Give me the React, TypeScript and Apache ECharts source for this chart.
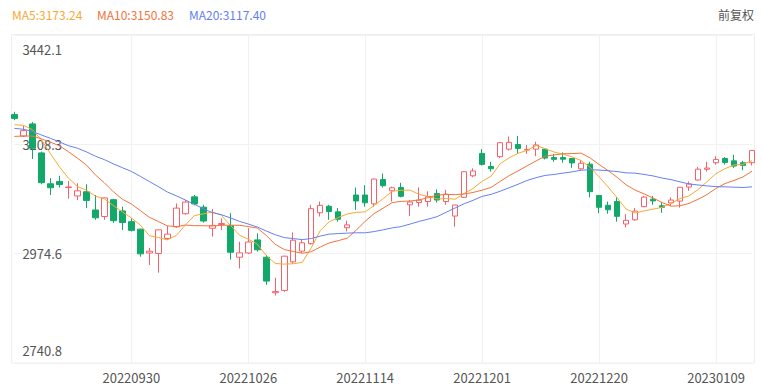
import React, { useEffect, useRef } from 'react';
import * as echarts from 'echarts';

const dates = [
  '20220913', '20220914', '20220915', '20220916', '20220919', '20220920', '20220921', '20220922', '20220923', '20220926', '20220927', '20220928', '20220929', '20220930',
  '20221010', '20221011', '20221012', '20221013', '20221014', '20221017', '20221018', '20221019', '20221020', '20221021', '20221024', '20221025', '20221026', '20221027', '20221028', '20221031',
  '20221101', '20221102', '20221103', '20221104', '20221107', '20221108', '20221109', '20221110', '20221111', '20221114', '20221115', '20221116', '20221117', '20221118', '20221121', '20221122', '20221123', '20221124', '20221125', '20221128', '20221129', '20221130',
  '20221201', '20221202', '20221205', '20221206', '20221207', '20221208', '20221209', '20221212', '20221213', '20221214', '20221215', '20221216', '20221219', '20221220', '20221221', '20221222', '20221223', '20221226', '20221227', '20221228', '20221229', '20221230',
  '20230103', '20230104', '20230105', '20230106', '20230109', '20230110', '20230111', '20230112', '20230113',
];

const opens = [
  3272, 3226, 3252, 3190, 3124, 3129, 3116, 3098, 3107, 3068,
  3054, 3090, 3066, 3043, 3027, 2976, 2975, 3007, 3032, 3060,
  3096, 3074, 3029, 3037, 3034, 2967, 2976, 3004, 2967, 2891,
  2896, 2957, 2980, 2996, 3062, 3076, 3064, 3030, 3100, 3100,
  3081, 3133, 3109, 3116, 3079, 3084, 3086, 3103, 3086, 3055,
  3095, 3141, 3189, 3161, 3182, 3198, 3208, 3196, 3198, 3198,
  3180, 3180, 3178, 3156, 3166, 3099, 3078, 3086, 3038, 3047,
  3075, 3091, 3077, 3083, 3087, 3117, 3132, 3155, 3169, 3178,
  3173, 3169, 3169,
];

const closes = [
  3263.8, 3237.54, 3199.92, 3126.4, 3115.6, 3122.41, 3117.18, 3108.91, 3088.37, 3051.23,
  3093.86, 3045.07, 3041.2, 3024.39, 2974.15, 2979.79, 3025.51, 3016.36, 3071.99, 3084.94,
  3080.96, 3044.38, 3035.05, 3038.93, 2977.56, 2976.28, 2999.5, 2982.9, 2915.93, 2893.48,
  2969.2, 3003.37, 2997.81, 3070.8, 3077.82, 3064.49, 3048.17, 3036.13, 3087.29, 3083.4,
  3134.08, 3119.98, 3115.43, 3097.24, 3085.04, 3088.94, 3096.91, 3089.31, 3101.69, 3078.55,
  3149.75, 3151.34, 3165.47, 3156.14, 3211.81, 3212.53, 3199.62, 3197.35, 3206.95, 3179.04,
  3176.33, 3176.53, 3168.65, 3167.86, 3107.12, 3073.77, 3068.41, 3054.43, 3045.87, 3065.56,
  3095.57, 3087.4, 3073.7, 3089.26, 3116.51, 3123.52, 3155.22, 3157.64, 3176.08, 3169.51,
  3161.84, 3163.45, 3195.31,
];

const lows = [
  3260, 3224, 3177, 3123, 3100, 3116, 3092, 3089, 3072, 3047,
  3047, 3040, 3025, 3022, 2968, 2950, 2934, 3004, 3030, 3058,
  3078, 3041, 3011, 3025, 2962, 2943, 2974, 2979, 2908, 2885,
  2893, 2953, 2976, 2994, 3054, 3047, 3043, 3022, 3068, 3075,
  3075, 3116, 3086, 3095, 3055, 3075, 3075, 3084, 3079, 3032,
  3094, 3138, 3163, 3150, 3179, 3195, 3188, 3188, 3183, 3176,
  3171, 3169, 3158, 3153, 3095, 3061, 3060, 3043, 3031, 3045,
  3074, 3079, 3062, 3077, 3073, 3109, 3131, 3150, 3165, 3165,
  3158, 3153, 3163,
];

const highs = [
  3278, 3248, 3256, 3193, 3136, 3141, 3130, 3125, 3123, 3100,
  3094, 3092, 3075, 3050, 3028, 2987, 3026, 3034, 3082, 3089,
  3100, 3079, 3070, 3050, 3061, 3000, 3029, 3018, 2972, 2923,
  2970, 3020, 3004, 3079, 3086, 3079, 3072, 3045, 3116, 3121,
  3135, 3146, 3118, 3126, 3089, 3116, 3108, 3112, 3111, 3079,
  3151, 3157, 3198, 3171, 3213, 3225, 3226, 3207, 3214, 3200,
  3188, 3191, 3179, 3175, 3171, 3100, 3086, 3095, 3059, 3072,
  3098, 3098, 3085, 3095, 3117, 3129, 3160, 3171, 3183, 3181,
  3186, 3173, 3196,
];

const ma5 = [
  3250.24, 3249.05, 3239.78, 3217.94, 3188.65, 3160.37, 3136.30, 3118.10, 3110.49, 3097.62,
  3091.91, 3077.49, 3063.95, 3051.15, 3035.73, 3012.92, 3009.01, 3004.04, 3013.56, 3035.72,
  3055.95, 3059.73, 3063.46, 3056.85, 3035.38, 3014.44, 3005.46, 2995.03, 2970.43, 2953.62,
  2952.20, 2952.98, 2955.96, 2986.93, 3023.80, 3042.86, 3051.82, 3059.48, 3062.78, 3063.90,
  3077.81, 3092.18, 3108.04, 3110.03, 3110.35, 3101.33, 3096.71, 3091.49, 3092.38, 3091.08,
  3103.24, 3114.13, 3129.36, 3140.25, 3166.90, 3179.46, 3189.11, 3195.49, 3205.65, 3199.10,
  3191.86, 3187.24, 3181.50, 3173.68, 3159.30, 3138.79, 3117.16, 3094.32, 3069.92, 3061.61,
  3065.97, 3069.77, 3073.62, 3082.30, 3092.49, 3098.08, 3111.64, 3128.43, 3145.79, 3156.39,
  3164.06, 3165.70, 3173.24,
];

const ma10 = [
  3225.19, 3226.22, 3226.00, 3220.14, 3213.06, 3205.31, 3192.68, 3178.94, 3164.22, 3143.14,
  3126.14, 3106.90, 3091.02, 3080.82, 3066.68, 3052.42, 3043.25, 3033.99, 3032.36, 3035.73,
  3034.44, 3034.37, 3033.75, 3035.21, 3035.55, 3035.20, 3032.60, 3029.25, 3013.64, 2994.50,
  2983.32, 2979.22, 2975.50, 2978.68, 2988.71, 2997.53, 3002.40, 3007.72, 3024.86, 3043.85,
  3060.34, 3072.00, 3083.76, 3086.40, 3087.13, 3089.57, 3094.44, 3099.76, 3101.20, 3100.72,
  3102.28, 3105.42, 3110.42, 3116.31, 3128.99, 3141.35, 3151.62, 3162.43, 3172.95, 3183.00,
  3185.66, 3188.18, 3188.50, 3189.67, 3179.20, 3165.32, 3152.20, 3137.91, 3121.80, 3110.45,
  3102.38, 3093.46, 3083.97, 3076.11, 3077.05, 3082.02, 3090.70, 3101.03, 3114.05, 3124.44,
  3131.07, 3138.67, 3150.83,
];

const ma20 = [
  3242.52, 3240.52, 3235.89, 3228.31, 3221.19, 3213.42, 3205.47, 3200.15, 3192.26, 3183.01,
  3175.67, 3166.56, 3158.51, 3150.48, 3139.87, 3128.86, 3117.96, 3106.47, 3098.29, 3089.43,
  3080.29, 3070.63, 3062.39, 3058.01, 3051.11, 3043.81, 3037.92, 3031.62, 3023.00, 3015.11,
  3008.88, 3006.79, 3004.62, 3006.94, 3012.13, 3016.36, 3017.50, 3018.48, 3019.25, 3019.17,
  3021.83, 3025.61, 3029.63, 3032.54, 3037.92, 3043.55, 3048.42, 3053.74, 3063.03, 3072.28,
  3081.31, 3088.71, 3097.09, 3101.36, 3108.06, 3115.46, 3123.03, 3131.09, 3137.08, 3141.86,
  3143.97, 3146.80, 3149.46, 3152.99, 3154.09, 3153.34, 3151.91, 3150.17, 3147.38, 3146.73,
  3144.02, 3140.82, 3136.23, 3132.89, 3128.12, 3123.67, 3121.45, 3119.47, 3117.92, 3117.45,
  3116.72, 3116.07, 3117.40,
];

const yMin = 2740.8;
const yMax = 3442.11;
const yStep = 233.77;
const labelEvery = 13;

const UP = '#f5616a';
const DOWN = '#12a869';
const C_MA5 = '#f7a935';
const C_MA10 = '#f2733a';
const C_MA20 = '#6480f2';
const FONT = '"Noto Sans CJK SC", "Noto Sans", sans-serif';

export default function App() {
  const ref = useRef<HTMLDivElement>(null);
  useEffect(() => {
    document.body.style.margin = '0';
    const chart = echarts.init(ref.current as HTMLDivElement, null, { renderer: 'svg' });
    const kData = dates.map((_, i) => [opens[i], closes[i], lows[i], highs[i]]);
    const last = (a: number[]) => a[a.length - 1].toFixed(2);
    chart.setOption({
      animation: false,
      backgroundColor: '#ffffff',
      grid: { left: 14.4, right: 11, top: 35, bottom: 28, show: false },
      xAxis: {
        type: 'category',
        data: dates,
        boundaryGap: false,
        axisLine: { show: false },
        axisTick: { show: false },
        axisLabel: {
          interval: (i: number) => i > 0 && i % labelEvery === 0,
          color: '#555',
          fontSize: 13,
          margin: 8,
          fontFamily: FONT,
        },
        splitLine: {
          show: true,
          interval: (i: number) => i > 0 && i % labelEvery === 0,
          lineStyle: { color: '#f1f1f1', width: 1 },
        },
      },
      yAxis: {
        type: 'value',
        min: yMin,
        max: yMax,
        interval: yStep,
        axisLine: { show: false },
        axisTick: { show: false },
        axisLabel: {
          inside: true,
          margin: 8,
          color: '#555',
          fontSize: 13,
          fontFamily: FONT,
          padding: [8, 0, 6, 0],
          formatter: (v: number) => v.toFixed(1),
          verticalAlignMaxLabel: 'top',
          verticalAlignMinLabel: 'bottom',
        },
        splitLine: { show: true, lineStyle: { color: '#f1f1f1', width: 1 } },
      },
      graphic: [
        {
          type: 'rect',
          silent: true,
          z: 0,
          shape: { x: 11.5, y: 34.5, width: 743, height: 328.5 },
          style: { fill: 'none', stroke: '#eeeeee', lineWidth: 1 },
        },
        {
          type: 'text', x: 12, y: 14,
          style: { text: 'MA5:' + last(ma5), fill: C_MA5, font: '12px ' + FONT, verticalAlign: 'middle' },
        },
        {
          type: 'text', x: 97, y: 14,
          style: { text: 'MA10:' + last(ma10), fill: C_MA10, font: '12px ' + FONT, verticalAlign: 'middle' },
        },
        {
          type: 'text', x: 189, y: 14,
          style: { text: 'MA20:' + last(ma20), fill: C_MA20, font: '12px ' + FONT, verticalAlign: 'middle' },
        },
        {
          type: 'text', x: 754, y: 14,
          style: { text: '前复权', fill: '#555', font: '12px ' + FONT, align: 'right', verticalAlign: 'middle' },
        },
      ],
      series: [
        {
          type: 'candlestick',
          data: kData,
          barWidth: 6,
          clip: false,
          itemStyle: {
            color: '#ffffff',
            color0: DOWN,
            borderColor: UP,
            borderColor0: DOWN,
            borderWidth: 1,
          },
        },
        { type: 'line', data: ma5, symbol: 'none', z: 3, lineStyle: { width: 1, color: C_MA5 }, itemStyle: { color: C_MA5 } },
        { type: 'line', data: ma10, symbol: 'none', z: 3, lineStyle: { width: 1, color: C_MA10 }, itemStyle: { color: C_MA10 } },
        { type: 'line', data: ma20, symbol: 'none', z: 3, lineStyle: { width: 1, color: C_MA20 }, itemStyle: { color: C_MA20 } },
      ],
    });
    return () => chart.dispose();
  }, []);
  return <div ref={ref} style={{ position: 'fixed', left: 0, top: 0, width: 763, height: 391 }} />;
}
